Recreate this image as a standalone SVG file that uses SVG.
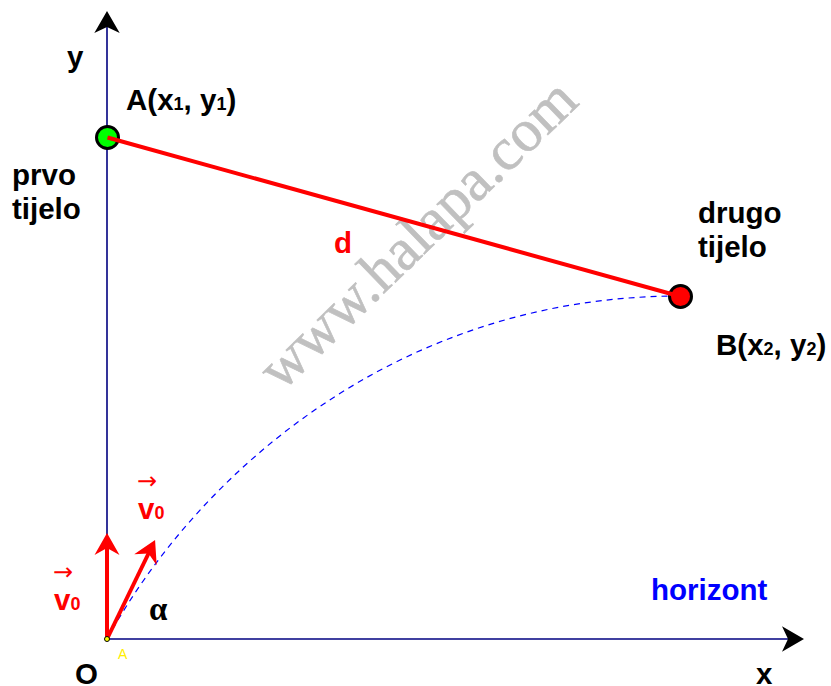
<svg xmlns="http://www.w3.org/2000/svg" width="831" height="686" viewBox="0 0 831 686">
<style>
.lbl{font-family:"Liberation Sans",Arial,sans-serif;font-weight:bold;font-size:29.5px;fill:#000}
.red{fill:#ff0000}
.sub{font-size:18px}
.axis{stroke:#000080;stroke-width:1.6;fill:none}
.vec{stroke:#ff0000;stroke-width:4;fill:none}
.acc{font-family:"DejaVu Sans",sans-serif;font-size:24px;fill:#ff0000}
</style>
<defs>
<marker id="ahBlack" markerUnits="userSpaceOnUse" markerWidth="22" markerHeight="26" refX="7" refY="12.7" orient="auto" overflow="visible">
<path d="M22,12.7 L0,0 L6,12.7 L0,25.4 Z" fill="#000"/>
</marker>
<marker id="ahRed" markerUnits="userSpaceOnUse" markerWidth="22" markerHeight="26" refX="12" refY="12.5" orient="auto" overflow="visible">
<path d="M22,12.5 L0,0 L7,12.5 L0,25 Z" fill="#ff0000"/>
</marker>
</defs>
<rect width="831" height="686" fill="#fff"/>
<text x="431" y="248" transform="rotate(-44 431 248)" text-anchor="middle" font-family="Liberation Serif,serif" font-size="60" fill="#c0c0c0" stroke="#c0c0c0" stroke-width="0.6">www.halapa.com</text>
<g id="connectors">
<line class="axis" x1="107" y1="639" x2="107" y2="26" marker-end="url(#ahBlack)"/>
<line class="axis" x1="107" y1="639" x2="789" y2="639" marker-end="url(#ahBlack)"/>
<path d="M107,639 C200,470 400,296 680,296" fill="none" stroke="#0000ff" stroke-width="1.2" stroke-dasharray="6,5"/>
<line class="vec" x1="107" y1="639" x2="107" y2="543" marker-end="url(#ahRed)"/>
<line class="vec" x1="107" y1="639" x2="150.7" y2="549" marker-end="url(#ahRed)"/>
</g>
<g id="pointA">
<circle cx="107.5" cy="137.5" r="11" fill="#00ff00" stroke="#000" stroke-width="3"/>
</g>
<g id="pointB">
<circle cx="680.5" cy="296.5" r="11" fill="#ff0000" stroke="#000" stroke-width="3"/>
</g>
<g id="segment-d">
<line x1="107.5" y1="137.5" x2="680.5" y2="296.5" stroke="#ff0000" stroke-width="4"/>
</g>
<g id="origin">
<circle cx="107" cy="639" r="2.5" fill="#ffff00" stroke="#000" stroke-width="1"/>
<text x="118" y="659" font-family="Liberation Sans,Arial,sans-serif" font-size="14" fill="#ffee00">A</text>
</g>
<g id="labels">
<text class="lbl" x="67" y="67">y</text>
<text class="lbl" x="126" y="110">A(x<tspan class="sub">1</tspan>, y<tspan class="sub">1</tspan>)</text>
<text class="lbl" x="12" y="185">prvo</text>
<text class="lbl" x="12" y="219">tijelo</text>
<text class="lbl" x="698" y="223">drugo</text>
<text class="lbl" x="698" y="257">tijelo</text>
<text class="lbl" x="716" y="355">B(x<tspan class="sub">2</tspan>, y<tspan class="sub">2</tspan>)</text>
<text class="lbl red" x="334" y="253">d</text>
<text class="lbl" x="651" y="600" style="fill:#0000ff">horizont</text>
<text class="lbl" x="756" y="684">x</text>
<text class="lbl" x="75" y="684">O</text>
<text x="149" y="620" font-family="Liberation Serif,serif" font-weight="bold" font-size="33" fill="#000">α</text>
<text class="acc" x="53" y="580">→</text>
<text class="lbl red" x="54" y="610">v<tspan class="sub">0</tspan></text>
<text class="acc" x="137" y="489">→</text>
<text class="lbl red" x="138" y="519">v<tspan class="sub">0</tspan></text>
</g>
</svg>
